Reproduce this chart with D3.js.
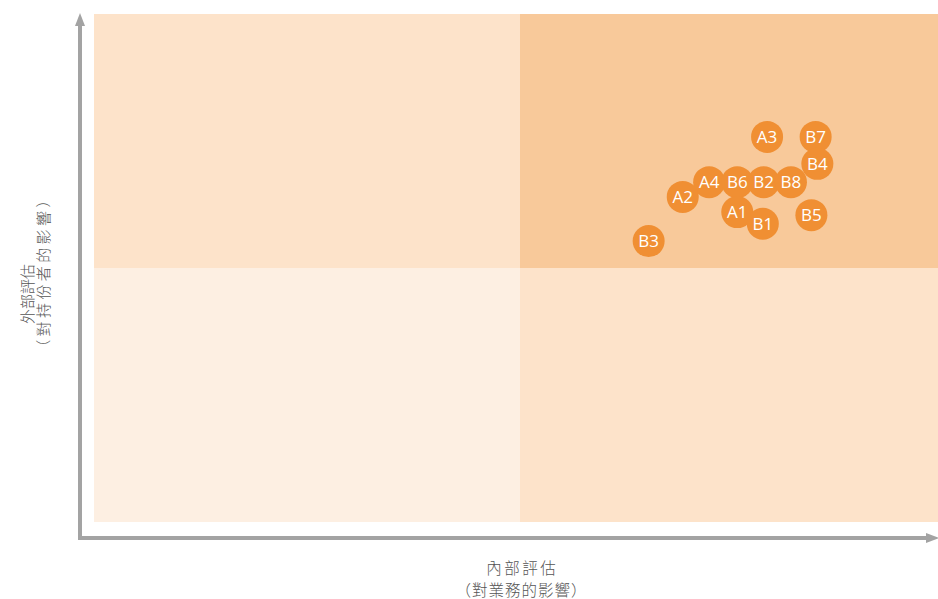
<!DOCTYPE html>
<html><head><meta charset="utf-8">
<script src="https://cdn.jsdelivr.net/npm/d3@7"></script>
<style>body{margin:0;background:#fff}svg{display:block}</style>
</head><body>
<svg id="c" width="938" height="599"></svg>
<script>
const labels = ["A3","B7","B4","A4","B6","B2","B8","A2","A1","B1","B5","B3"];
const xValues = [7.90,8.47,8.49,7.22,7.55,7.86,8.18,6.91,7.55,7.85,8.42,6.51];
const yValues = [7.58,7.58,7.05,6.69,6.69,6.69,6.69,6.40,6.10,5.87,6.04,5.53];
const xTitle = ["內部評估","（對業務的影響）"];
const yTitle = ["外部評估","（對持份者的影響）"];

const svg = d3.select("#c");
const x = d3.scaleLinear().domain([0,10]).range([94,946]);
const y = d3.scaleLinear().domain([0,10]).range([522,14]);

const quads = [
  {x0:0,x1:5,y0:5,y1:10,c:"#fde3ca"},
  {x0:5,x1:10,y0:5,y1:10,c:"#f8c99a"},
  {x0:0,x1:5,y0:0,y1:5,c:"#fdefe2"},
  {x0:5,x1:10,y0:0,y1:5,c:"#fde3ca"}
];
svg.selectAll("rect.q").data(quads).join("rect")
  .attr("x",d=>x(d.x0)).attr("y",d=>y(d.y1))
  .attr("width",d=>x(d.x1)-x(d.x0)).attr("height",d=>y(d.y0)-y(d.y1))
  .attr("fill",d=>d.c);

// axes
const ax = 80, ay = 538;
svg.append("line").attr("x1",ax).attr("y1",ay+2).attr("x2",ax).attr("y2",24)
  .attr("stroke","#a3a3a3").attr("stroke-width",4);
svg.append("path").attr("d",`M${ax-5},26 L${ax},13 L${ax+5},26 Z`).attr("fill","#a3a3a3");
svg.append("line").attr("x1",ax-2).attr("y1",ay).attr("x2",928).attr("y2",ay)
  .attr("stroke","#a3a3a3").attr("stroke-width",4);
svg.append("path").attr("d",`M926,${ay-5} L939,${ay} L926,${ay+5} Z`).attr("fill","#a3a3a3");

const font = "'Noto Sans CJK TC','Noto Sans',sans-serif";
const xPos = [{b:573.5,ls:2.5},{b:596,ls:1}];
svg.append("g").selectAll("text").data(xTitle).join("text")
  .attr("x",(d,i)=>521+xPos[i].ls/2).attr("y",(d,i)=>xPos[i].b).attr("text-anchor","middle")
  .attr("letter-spacing",(d,i)=>xPos[i].ls)
  .attr("font-family",font).attr("font-size",15.5).attr("font-weight",300).attr("fill","#555")
  .text(d=>d);

const yPos = [{c:294,b:33,ls:0},{c:272,b:48.5,ls:3.4}];
svg.append("g").selectAll("text").data(yTitle).join("text")
  .attr("transform",(d,i)=>`translate(${yPos[i].b},${yPos[i].c}) rotate(-90)`)
  .attr("text-anchor","middle").attr("letter-spacing",(d,i)=>yPos[i].ls)
  .attr("font-family",font).attr("font-size",15).attr("font-weight",300).attr("fill","#555")
  .text(d=>d);

const pts = labels.map((l,i)=>({l,x:xValues[i],y:yValues[i]}));
const g = svg.append("g").selectAll("g").data(pts).join("g")
  .attr("transform",d=>`translate(${x(d.x)},${y(d.y)})`);
g.append("circle").attr("r",16).attr("fill","#f08f33");
g.append("text").attr("text-anchor","middle").attr("dy","0.36em")
  .attr("font-family","'Open Sans',sans-serif").attr("font-size",17).attr("fill","#fff")
  .text(d=>d.l);
</script>
</body></html>
